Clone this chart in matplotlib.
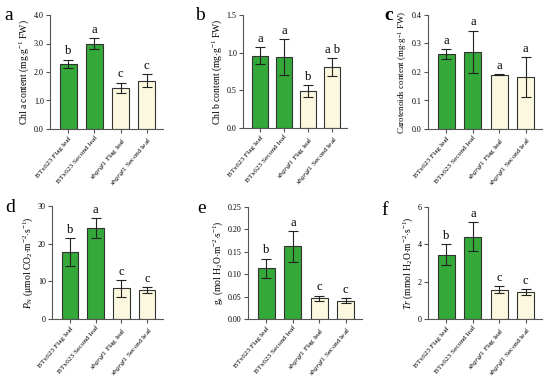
import matplotlib
matplotlib.use("Agg")
import matplotlib.pyplot as plt
import numpy as np

plt.rcParams['font.family'] = ['Liberation Serif', 'DejaVu Serif']
plt.rcParams['mathtext.fontset'] = 'custom'
plt.rcParams['mathtext.rm'] = 'Liberation Serif'
plt.rcParams['mathtext.it'] = 'Liberation Serif:italic'
plt.rcParams['mathtext.bf'] = 'Liberation Serif:bold'

categories = ["BTx623 Flag leaf", "BTx623 Second leaf",
              r"$sbgrgl1$ Flag leaf", r"$sbgrgl1$ Second leaf"]

chla_mean = [2.28, 3.00, 1.45, 1.70]
chla_err = [0.15, 0.20, 0.18, 0.22]
chla_sig = ["b", "a", "c", "c"]

chlb_mean = [0.96, 0.94, 0.49, 0.81]
chlb_err = [0.11, 0.24, 0.08, 0.12]
chlb_sig = ["a", "a", "b", "a b"]

car_mean = [0.262, 0.270, 0.190, 0.182]
car_err = [0.018, 0.075, 0.002, 0.070]
car_sig = ["a", "a", "a", "a"]

pn_mean = [17.8, 24.1, 8.1, 7.6]
pn_err = [3.6, 2.6, 2.3, 0.8]
pn_sig = ["b", "a", "c", "c"]

gs_mean = [0.113, 0.162, 0.046, 0.041]
gs_err = [0.022, 0.034, 0.006, 0.005]
gs_sig = ["b", "a", "c", "c"]

tr_mean = [3.45, 4.40, 1.58, 1.45]
tr_err = [0.58, 0.78, 0.20, 0.17]
tr_sig = ["b", "a", "c", "c"]

colors = ["#34a839", "#34a839", "#fcf8df", "#fcf8df"]

W, H = 550, 380
fig = plt.figure(figsize=(5.5, 3.8), dpi=100)

def add_ax(x0, x1, ytop, ybot):
    return fig.add_axes([x0 / W, (H - ybot) / H, (x1 - x0) / W, (ybot - ytop) / H])

panels = [
    dict(box=(50, 163, 15, 129), mean=chla_mean, err=chla_err, sig=chla_sig,
         ylim=4.0, ticks=[0, 1, 2, 3, 4], fmt="{:.1f}", ysize=6.9,
         ylabel=r"Chl a content (mg$\cdot$g$^{-1}$ FW)", letter="a", lpos=(4, 20), bold=False),
    dict(box=(243, 347, 15, 128), mean=chlb_mean, err=chlb_err, sig=chlb_sig,
         ylim=1.5, ticks=[0, 0.5, 1.0, 1.5], fmt="{:.1f}", ysize=6.9,
         ylabel=r"Chl b content (mg$\cdot$g$^{-1}$ FW)", letter="b", lpos=(195, 20), bold=False),
    dict(box=(428, 542, 15, 129), mean=car_mean, err=car_err, sig=car_sig,
         ylim=0.4, ticks=[0, 0.1, 0.2, 0.3, 0.4], fmt="{:.1f}", ysize=6.5,
         ylabel=r"Carotenoids content (mg$\cdot$g$^{-1}$ FW)", letter="c", lpos=(384, 20), bold=True),
    dict(box=(52, 163, 206, 319), mean=pn_mean, err=pn_err, sig=pn_sig,
         ylim=30, ticks=[0, 10, 20, 30], fmt="{:.0f}", ysize=6.9,
         ylabel=r"$P_{\mathrm{N}}$ ($\mathrm{\mu}$mol CO$_2$$\cdot$m$^{-2}$$\cdot$s$^{-1}$)",
         letter="d", lpos=(5, 212), bold=False),
    dict(box=(248, 362, 207, 319), mean=gs_mean, err=gs_err, sig=gs_sig,
         ylim=0.25, ticks=[0, 0.05, 0.10, 0.15, 0.20, 0.25], fmt="{:.2f}", ysize=6.9,
         ylabel=r"g$_\mathrm{s}$ (mol H$_2$O$\cdot$m$^{-2}$$\cdot$s$^{-1}$)",
         letter="e", lpos=(197, 213), bold=False),
    dict(box=(428, 542, 207, 319), mean=tr_mean, err=tr_err, sig=tr_sig,
         ylim=6, ticks=[0, 2, 4, 6], fmt="{:.0f}", ysize=6.9,
         ylabel=r"$Tr$ (mmol H$_2$O$\cdot$m$^{-2}$$\cdot$s$^{-1}$)",
         letter="f", lpos=(381, 215), bold=False),
]

x = np.arange(len(categories))
for p in panels:
    x0, x1, yt, yb = p["box"]
    ax = add_ax(x0, x1, yt, yb)
    ax.bar(x, p["mean"], width=0.65, color=colors, edgecolor="#333333", linewidth=0.8, zorder=2)
    ax.errorbar(x, p["mean"], yerr=p["err"], fmt="none", ecolor="#222222",
                elinewidth=0.8, capsize=3.5, capthick=0.8, zorder=3)
    top = p["ylim"]
    for xi, m, e, s in zip(x, p["mean"], p["err"], p["sig"]):
        ax.text(xi, m + e + top * 0.02, s, ha="center", va="bottom", fontsize=9)
    ax.set_ylim(0, top)
    ax.set_xlim(-0.7, 3.62)
    ax.set_yticks(p["ticks"])
    ax.set_yticklabels([p["fmt"].format(t) for t in p["ticks"]], fontsize=5.8)
    ax.set_xticks(x)
    ax.set_xticklabels(categories, rotation=50, ha="right", rotation_mode="anchor", fontsize=5.3)
    for side in ["top", "right"]:
        ax.spines[side].set_visible(False)
    for side in ["left", "bottom"]:
        ax.spines[side].set_color("#555555")
        ax.spines[side].set_linewidth(0.8)
    ax.tick_params(axis="both", color="#555555", width=0.8, length=3, pad=1.5)
    ax.set_ylabel(p["ylabel"], fontsize=p["ysize"], labelpad=2)
    fig.text(p["lpos"][0] / W, 1 - p["lpos"][1] / H, p["letter"], fontsize=14,
             ha="left", va="baseline", fontweight="bold" if p["bold"] else "normal")

fig.savefig("out.png", dpi=100, facecolor="white")
